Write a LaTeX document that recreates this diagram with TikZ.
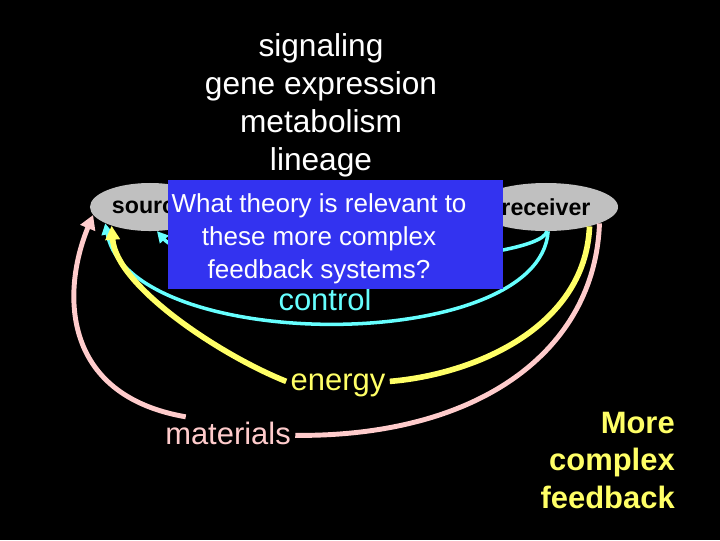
\documentclass[tikz,border=0pt]{standalone}
\usepackage{fontspec}
\setmainfont{Liberation Sans}
\usetikzlibrary{arrows.meta,shapes.geometric}
\definecolor{boxblue}{RGB}{51,51,240}
\definecolor{cellgrey}{RGB}{192,192,192}
\definecolor{ctrlcyan}{RGB}{102,255,255}
\definecolor{enyellow}{RGB}{255,255,102}
\definecolor{matpink}{RGB}{255,204,204}
\begin{document}
\begin{tikzpicture}[x=0.025cm, y=-0.025cm,
		>={Triangle[length=10pt,width=10pt]},
		cell/.style={ellipse, fill=cellgrey, minimum height=1.2cm, inner sep=0pt, font=\fontsize{16.5}{19}\selectfont\bfseries},
		lbl/.style={font=\fontsize{22}{27}\selectfont, text height=0.75em, text depth=0.2em, inner sep=3pt}]
			\fill[black] (0,0) rectangle (720,540);
			\useasboundingbox (0,0) rectangle (720,540);
			
			% Processes
			\node[text=white, align=center, inner sep=0pt, font=\fontsize{22.5}{27}\selectfont] (proc) at (321,105) {signaling\\gene expression\\metabolism\\lineage};
			
			% Source and receiver
			\node[cell, minimum width=3cm] (src) at (150,207) {source};
			\node[cell, minimum width=3.6cm] (rcv) at (546,207) {receiver};
			
			% Labels
			\node[lbl, text=ctrlcyan] (control) at (325,307) {control};
			\node[lbl, text=enyellow] (energy) at (338,387) {energy};
			\node[lbl, text=matpink] (materials) at (228,441) {materials};
			
			% Control (cyan)
			\draw[->, ctrlcyan, line width=2.5pt, >={Triangle[length=8pt,width=8pt]}] (rcv.275) .. controls (540,355) and (130,355) .. (src.200);
			\draw[->, ctrlcyan, line width=2.5pt, >={Triangle[length=8pt,width=8pt]}] (rcv.272) .. controls (540,265) and (200,280) .. (src.286);
			
			% Energy (yellow)
			\draw[enyellow, line width=4pt] (rcv.336) .. controls (585,330) and (470,375) .. ([yshift=4]energy.east);
			\draw[->, enyellow, line width=4pt] ([yshift=4]energy.west) .. controls (220,355) and (116,286) .. (src.206);
			
			% Materials (pink)
			\draw[matpink, line width=3.5pt] (rcv.343) .. controls (595,350) and (480,437) .. ([yshift=4]materials.east);
			\draw[->, matpink, line width=3.5pt, >={Triangle[length=10pt,width=11pt]}] ([shift={(25,-13)}]materials.north west) .. controls (60,395) and (62,290) .. (src.188);
			
			% Question
			\node[fill=boxblue, minimum width=8.375cm, minimum height=2.725cm, inner sep=0pt] (question) at (335.5,234.5) {};
			\node[text=white, align=center, inner sep=0pt, font=\fontsize{18.5}{23.4}\selectfont] (qtext) at (319,238.5) {What theory is relevant to\\these more complex\\feedback systems?};
			
			% Title
			\node[text=enyellow, align=right, anchor=north east, inner sep=0pt, font=\fontsize{22}{26.5}\selectfont\bfseries] (more) at (675,412) {More\\complex\\feedback};
		\end{tikzpicture}
\end{document}
